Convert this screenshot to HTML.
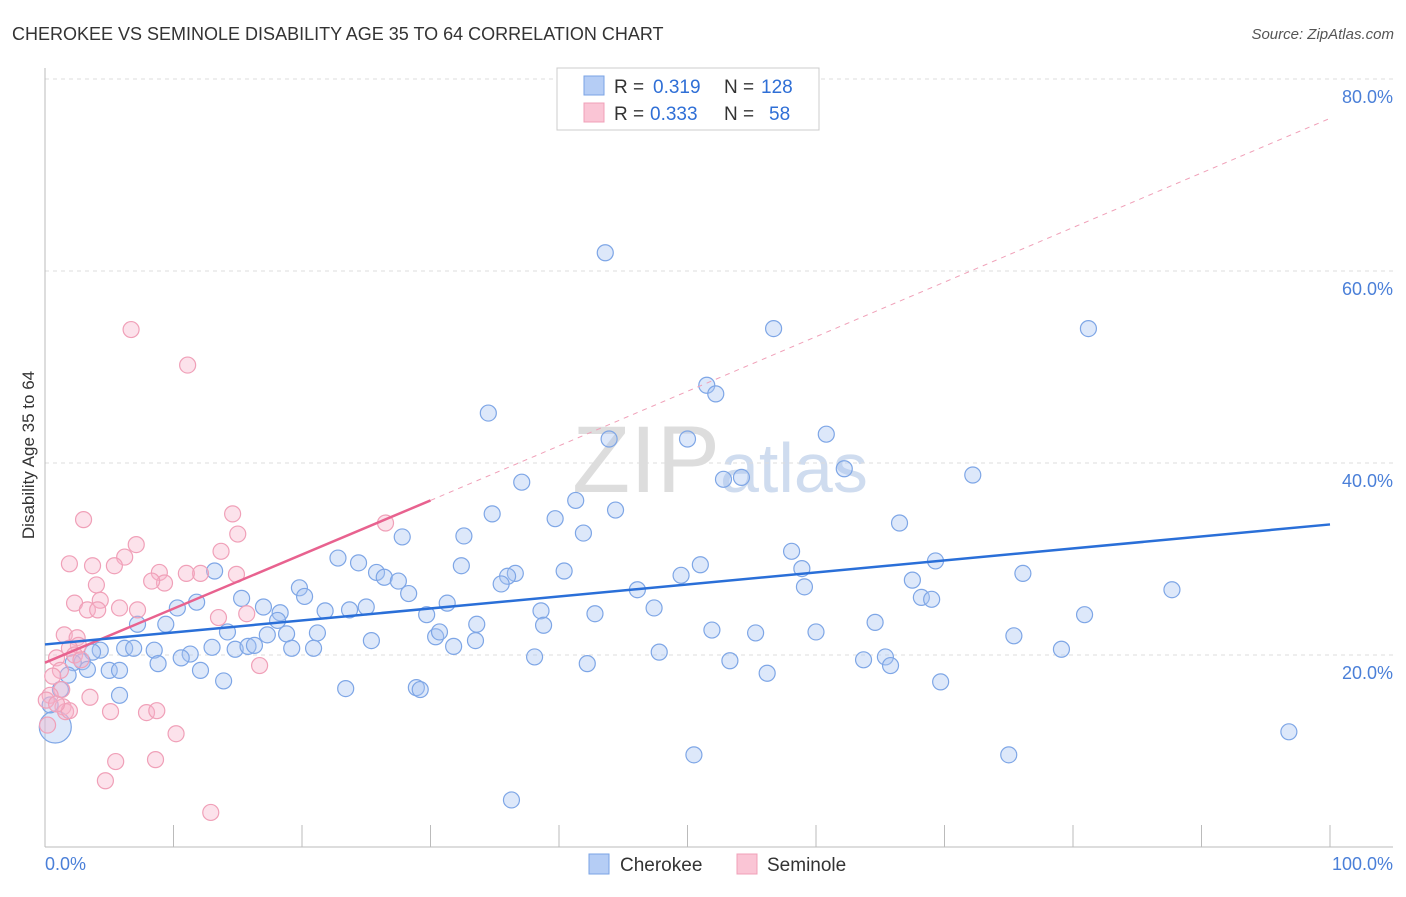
<!DOCTYPE html>
<html><head><meta charset="utf-8"><style>
body{margin:0;background:#fff;font-family:"Liberation Sans",sans-serif}
svg text{font-family:"Liberation Sans",sans-serif}
</style></head><body>
<svg width="1406" height="892">
<text x="12" y="40" font-size="18" fill="#333">CHEROKEE VS SEMINOLE DISABILITY AGE 35 TO 64 CORRELATION CHART</text>
<text x="1394" y="39" font-size="15" fill="#555" text-anchor="end" font-style="italic">Source: ZipAtlas.com</text>
<text x="720" y="492" font-size="95" fill="#ddd" text-anchor="middle" font-family="Liberation Serif">ZIP<tspan fill="#cfdcef" font-family="Liberation Sans" font-size="70">atlas</tspan></text>
<g id="grid"></g>
<g id="marks"></g>
<text transform="translate(34,455) rotate(-90)" font-size="17" fill="#333" text-anchor="middle">Disability Age 35 to 64</text>
<text x="45" y="870" font-size="18" fill="#4a7fd8">0.0%</text>
<text x="1393" y="870" font-size="18" fill="#4a7fd8" text-anchor="end">100.0%</text>
<g>
<rect x="557" y="68" width="262" height="62" fill="#fff" stroke="#ccc"/>
<rect x="584" y="76" width="20" height="19" fill="#b5cdf5" stroke="#7aa3e5"/>
<rect x="584" y="103" width="20" height="19" fill="#fac5d5" stroke="#f0a0b8"/>
<text y="93" font-size="19" fill="#333"><tspan x="614">R =</tspan><tspan x="653" fill="#2f6fd6">0.319</tspan><tspan x="724">N =</tspan><tspan x="761" fill="#2f6fd6">128</tspan></text>
<text y="120" font-size="19" fill="#333"><tspan x="614">R =</tspan><tspan x="650" fill="#2f6fd6">0.333</tspan><tspan x="724">N =</tspan><tspan x="769" fill="#2f6fd6">58</tspan></text>
</g>
<g>
<rect x="589" y="854" width="20" height="20" fill="#b5cdf5" stroke="#7aa3e5"/>
<text x="620" y="871" font-size="19" fill="#333">Cherokee</text>
<rect x="737" y="854" width="20" height="20" fill="#fac5d5" stroke="#f0a0b8"/>
<text x="767" y="871" font-size="19" fill="#333">Seminole</text>
</g>
</svg>
<script>
const yTicks=[20,40,60,80];
const xTicks=[0,10,20,30,40,50,60,70,80,90,100];
const blueX=[43.6,56.7,81.2,34.5,51.5,52.2,43.9,50.0,60.8,52.8,54.2,62.2,72.2,37.1,41.3,44.4,34.8,39.7,66.5,32.6,27.8,41.9,58.1,51.0,32.4,40.4,36.6,36.0,35.5,22.8,24.4,25.8,26.4,27.5,28.3,19.8,20.2,15.3,13.2,46.1,49.5,58.9,59.1,67.5,69.3,76.1,68.2,69.0,87.7,80.9,64.6,47.4,42.8,38.6,38.8,29.7,31.3,33.6,33.5,30.4,30.7,31.8,25.4,21.8,23.7,25.0,17.0,18.3,18.1,11.8,10.3,9.4,7.2,18.8,21.2,17.3,14.2,13.0,14.8,15.8,16.3,19.2,20.9,6.2,6.9,8.5,11.3,10.6,4.3,3.7,2.9,2.2,8.8,5.0,5.8,3.3,12.1,1.8,13.9,23.4,28.9,29.2,5.8,38.1,42.2,47.8,53.3,56.2,51.9,55.3,60.0,63.7,65.4,65.8,69.7,75.4,79.1,96.8,75.0,50.5,36.3,0.8,0.4,1.2];
const blueY=[61.9,54.0,54.0,45.2,48.1,47.2,42.5,42.5,43.0,38.3,38.5,39.4,38.75,38.0,36.1,35.1,34.7,34.2,33.75,32.4,32.3,32.7,30.8,29.4,29.3,28.75,28.5,28.2,27.4,30.1,29.6,28.6,28.1,27.7,26.4,27.0,26.1,25.9,28.75,26.8,28.3,29.0,27.1,27.8,29.8,28.5,26.0,25.8,26.8,24.2,23.4,24.9,24.3,24.6,23.1,24.2,25.4,23.2,21.5,21.9,22.4,20.9,21.5,24.6,24.7,25.0,25.0,24.4,23.6,25.5,24.9,23.2,23.2,22.2,22.3,22.1,22.4,20.8,20.6,20.9,21.0,20.7,20.7,20.7,20.7,20.5,20.1,19.7,20.5,20.3,19.3,19.2,19.1,18.4,18.4,18.5,18.4,17.9,17.3,16.5,16.6,16.4,15.8,19.8,19.1,20.3,19.4,18.1,22.6,22.3,22.4,19.5,19.8,18.9,17.2,22.0,20.6,12.0,9.6,9.6,4.9,12.5,14.8,16.4];
const pinkX=[6.7,11.1,14.6,15.0,26.5,3.0,1.9,7.1,6.2,3.7,5.4,13.7,8.9,12.1,11.0,14.9,9.3,8.3,4.0,2.3,4.3,3.3,5.8,7.2,4.1,15.7,13.5,1.5,2.5,2.6,1.9,2.3,2.8,0.9,1.2,0.6,1.3,0.4,3.5,0.1,1.4,1.6,1.9,0.9,5.1,7.9,8.7,10.2,5.5,8.6,4.7,12.9,16.7,0.2];
const pinkY=[53.9,50.2,34.7,32.6,33.75,34.1,29.5,31.5,30.2,29.3,29.3,30.8,28.6,28.5,28.5,28.4,27.5,27.7,27.3,25.4,25.7,24.7,24.9,24.7,24.7,24.3,23.9,22.1,21.8,21.0,20.7,20.0,19.5,19.7,18.4,17.8,16.4,15.8,15.6,15.3,14.6,14.1,14.2,14.9,14.1,14.0,14.2,11.8,8.9,9.1,6.9,3.6,18.9,12.7];
const blueFit=[21.1,33.6];
const pinkFit=[19.2,36.1,75.9];
const X=v=>45+v*12.85, Y=v=>847-v*9.6;
const NS='http://www.w3.org/2000/svg';
const grid=document.getElementById('grid'), marks=document.getElementById('marks');
function mk(tag,attrs,parent){const e=document.createElementNS(NS,tag);for(const k in attrs)e.setAttribute(k,attrs[k]);parent.appendChild(e);return e;}
yTicks.forEach(t=>{
 const l=mk('line',{x1:45,x2:1393,y1:Y(t),y2:Y(t),stroke:'#ddd','stroke-dasharray':'4,4'},grid);
 
 
 const tx=mk('text',{x:1393,y:Y(t)+24,'font-size':18,fill:'#4a7fd8','text-anchor':'end'},grid);
 tx.textContent=t.toFixed(1)+'%';
 
 
});
const ax=mk('line',{x1:45,x2:1393,y1:847,y2:847,stroke:'#bbb'},grid);


const ay=mk('line',{x1:45,x2:45,y1:68,y2:847,stroke:'#bbb'},grid);


xTicks.forEach(t=>{
 const l=mk('line',{x1:X(t),x2:X(t),y1:825,y2:847,stroke:'#bbb'},grid);
 
 
});
blueX.forEach((x,i)=>{
 const big=(i===blueX.length-3);
 const c=mk('circle',{cx:X(x),cy:Y(blueY[i]),r:big?16:8,fill:'rgba(165,195,242,0.38)',stroke:'#7ea6e6','stroke-width':1.2},marks);
 
 
});
pinkX.forEach((x,i)=>{
 const c=mk('circle',{cx:X(x),cy:Y(pinkY[i]),r:8,fill:'rgba(248,180,202,0.38)',stroke:'#f0a0b8','stroke-width':1.2},marks);
 
 
});
const pd=mk('line',{x1:X(30),y1:Y(pinkFit[1]),x2:X(100),y2:Y(pinkFit[2]),stroke:'#f0a0b8','stroke-dasharray':'5,5','stroke-width':1},marks);


const pl=mk('line',{x1:X(0),y1:Y(pinkFit[0]),x2:X(30),y2:Y(pinkFit[1]),stroke:'#e8628f','stroke-width':2.5},marks);


const bl=mk('line',{x1:X(0),y1:Y(blueFit[0]),x2:X(100),y2:Y(blueFit[1]),stroke:'#2a6fd8','stroke-width':2.5},marks);


</script>
</body></html>
